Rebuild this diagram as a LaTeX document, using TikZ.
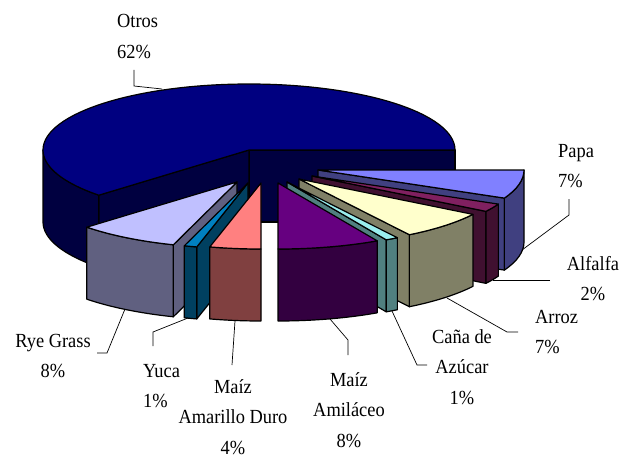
\documentclass[tikz,border=0pt]{standalone}
\usepackage{fontspec}
\setmainfont{Liberation Serif}
\usetikzlibrary{calc}
\definecolor{otrosT}{HTML}{000080}\definecolor{otrosS}{HTML}{000040}
\definecolor{papaT}{HTML}{8080FF}\definecolor{papaS}{HTML}{404080}
\definecolor{alfT}{HTML}{802060}\definecolor{alfS}{HTML}{401030}
\definecolor{arrozT}{HTML}{FFFFCC}\definecolor{arrozS}{HTML}{808066}
\definecolor{canaT}{HTML}{99EEEE}\definecolor{canaS}{HTML}{508080}
\definecolor{amilT}{HTML}{660080}\definecolor{amilS}{HTML}{330040}
\definecolor{maizT}{HTML}{FF8080}\definecolor{maizS}{HTML}{804040}
\definecolor{yucaT}{HTML}{0080C0}\definecolor{yucaS}{HTML}{004060}
\definecolor{ryeT}{HTML}{C0C0FF}\definecolor{ryeS}{HTML}{606080}
\newcommand\cutface[3]{\path[edge,fill=#3] (#1) -- ([shift={(#2:206pt and 66pt)}]#1) -- ++(0,-72pt) -- ([yshift=-72pt]#1) -- cycle;}
\newcommand\outerface[4]{\path[edge,fill=#4] ([shift={(#2:206pt and 66pt)}]#1) arc[start angle=#2,end angle=#3,x radius=206pt,y radius=66pt] -- ++(0,-72pt) arc[start angle=#3,end angle=#2,x radius=206pt,y radius=66pt] -- cycle;}
\newcommand\topface[4]{\path[edge,fill=#4] (#1) -- ([shift={(#2:206pt and 66pt)}]#1) arc[start angle=#2,end angle=#3,x radius=206pt,y radius=66pt] -- cycle;}
\newcommand\lbltext[2]{\scalebox{0.92}[1]{\begin{tabular}[t]{@{}#1@{}}#2\end{tabular}}}
\tikzset{
  edge/.style={draw=black, line width=1.2pt, line join=round},
  lbl/.style={inner sep=0pt, font=\fontsize{20}{30.5}\selectfont},
  leader/.style={draw=black, line width=0.7pt}
}
\begin{document}
\begin{tikzpicture}[x=1pt,y=1pt]
\useasboundingbox (0,0) rectangle (621,459);
% apexes
\coordinate (pOtros) at (249,309);
\coordinate (pPapa) at (318,289);
\coordinate (pAlf) at (312,283);
\coordinate (pArroz) at (299,280);
\coordinate (pCana) at (287,277);
\coordinate (pAmil) at (278,276);
\coordinate (pMaiz) at (261,276);
\coordinate (pYuca) at (248,276);
\coordinate (pRye) at (237,277);
% Otros
\cutface{pOtros}{0}{otrosS}
\cutface{pOtros}{223.2}{otrosS}
\outerface{pOtros}{180}{223.2}{otrosS}
\topface{pOtros}{0}{223.2}{otrosT}
% Papa
\cutface{pPapa}{334.8}{papaS}
\outerface{pPapa}{334.8}{360}{papaS}
\topface{pPapa}{334.8}{360}{papaT}
% Alfalfa
\cutface{pAlf}{327.6}{alfS}
\outerface{pAlf}{327.6}{334.8}{alfS}
\topface{pAlf}{327.6}{334.8}{alfT}
% Arroz
\cutface{pArroz}{302.4}{arrozS}
\outerface{pArroz}{302.4}{327.6}{arrozS}
\topface{pArroz}{302.4}{327.6}{arrozT}
% Cana
\cutface{pCana}{298.8}{canaS}
\outerface{pCana}{298.8}{302.4}{canaS}
\topface{pCana}{298.8}{302.4}{canaT}
% Amilaceo
\outerface{pAmil}{270}{298.8}{amilS}
\topface{pAmil}{270}{298.8}{amilT}
% Rye Grass
\cutface{pRye}{252}{ryeS}
\outerface{pRye}{223.2}{252}{ryeS}
\topface{pRye}{223.2}{252}{ryeT}
% Yuca
\cutface{pYuca}{255.6}{yucaS}
\outerface{pYuca}{252}{255.6}{yucaS}
\topface{pYuca}{252}{255.6}{yucaT}
% Maiz Amarillo Duro
\outerface{pMaiz}{255.6}{270}{maizS}
\topface{pMaiz}{255.6}{270}{maizT}
% labels
\node[lbl, anchor=base west] (lOtros) at (117,431) {\lbltext{l}{Otros\\62\%}};
\node[lbl, anchor=base west] (lPapa) at (558,302) {\lbltext{l}{Papa\\7\%}};
\node[lbl, anchor=base] (lAlf) at (593,189) {\lbltext{c}{Alfalfa\\2\%}};
\node[lbl, anchor=base west] (lArroz) at (535,136) {\lbltext{l}{Arroz\\7\%}};
\node[lbl, anchor=base] (lCana) at (462,116) {\lbltext{c}{Caña de\\Azúcar\\1\%}};
\node[lbl, anchor=base] (lAmil) at (349,73) {\lbltext{c}{Maíz\\Amiláceo\\8\%}};
\node[lbl, anchor=base] (lMaiz) at (233,66) {\lbltext{c}{Maíz\\Amarillo Duro\\4\%}};
\node[lbl, anchor=base west] (lYuca) at (143,82) {\lbltext{l}{Yuca\\1\%}};
\node[lbl, anchor=base] (lRye) at (53,112) {\lbltext{c}{Rye Grass\\8\%}};
% leader lines
\coordinate (oA) at (134,389); \coordinate (oB) at (134,373); \coordinate (oC) at (162,370);
\draw[leader] (oA) -- (oB) -- (oC);
\coordinate (paA) at (569,260); \coordinate (paB) at (569,244); \coordinate (paC) at (522,209);
\draw[leader] (paA) -- (paB) -- (paC);
\coordinate (alA) at (550,179); \coordinate (alB) at (493,179);
\draw[leader] (alA) -- (alB);
\coordinate (arA) at (518,127); \coordinate (arB) at (507,127); \coordinate (arC) at (447,161);
\draw[leader] (arA) -- (arB) -- (arC);
\coordinate (caA) at (427,94); \coordinate (caB) at (417,94); \coordinate (caC) at (392,148);
\draw[leader] (caA) -- (caB) -- (caC);
\coordinate (amA) at (348,104); \coordinate (amB) at (348,119); \coordinate (amC) at (330,140);
\draw[leader] (amA) -- (amB) -- (amC);
\coordinate (maA) at (232,94); \coordinate (maB) at (235,138);
\draw[leader] (maA) -- (maB);
\coordinate (yuA) at (153,113); \coordinate (yuB) at (153,127); \coordinate (yuC) at (188,141);
\draw[leader] (yuA) -- (yuB) -- (yuC);
\coordinate (ryA) at (97,106); \coordinate (ryB) at (107,106); \coordinate (ryC) at (125,150);
\draw[leader] (ryA) -- (ryB) -- (ryC);
\end{tikzpicture}
\end{document}
